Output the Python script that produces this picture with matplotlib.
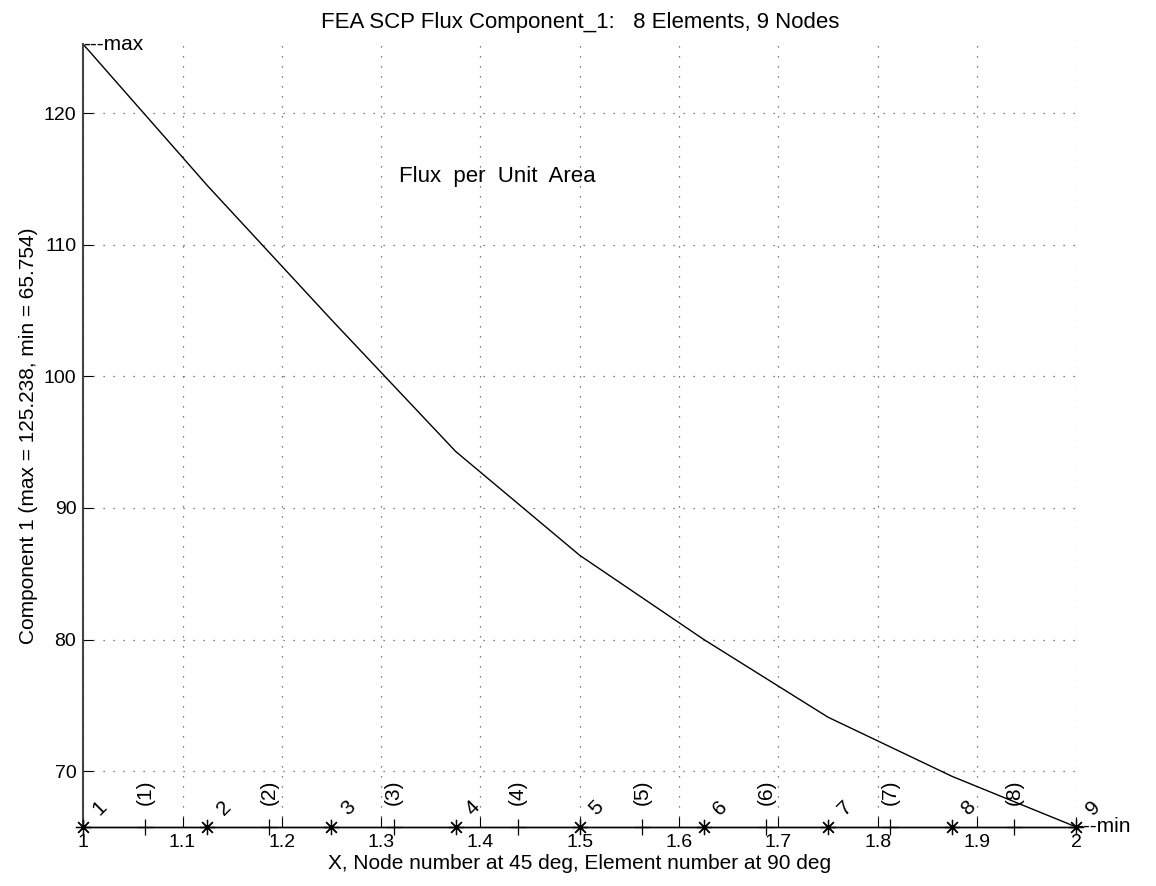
import numpy as np
import matplotlib as mpl
mpl.use('Agg')
import matplotlib.pyplot as plt

plt.rcParams['font.family'] = ['Liberation Sans', 'DejaVu Sans']

# node positions and flux values
x_nodes = [1.0, 1.125, 1.25, 1.375, 1.5, 1.625, 1.75, 1.875, 2.0]
flux = [125.238, 114.5, 104.3, 94.3, 86.4, 80.0, 74.1, 69.6, 65.754]
x_elems = [1.0625, 1.1875, 1.3125, 1.4375, 1.5625, 1.6875, 1.8125, 1.9375]
node_labels = ['1', '2', '3', '4', '5', '6', '7', '8', '9']
elem_labels = ['(1)', '(2)', '(3)', '(4)', '(5)', '(6)', '(7)', '(8)']
xticks = [1, 1.1, 1.2, 1.3, 1.4, 1.5, 1.6, 1.7, 1.8, 1.9, 2]
xticklabels = ['1', '1.1', '1.2', '1.3', '1.4', '1.5', '1.6', '1.7', '1.8', '1.9', '2']
yticks = [70, 80, 90, 100, 110, 120]

ymax = max(flux)
ymin = min(flux)
fs = 15

fig = plt.figure(figsize=(11.56, 8.86), dpi=100)
ax = fig.add_axes([0.072, 0.0666, 0.859, 0.8834])

ax.plot(x_nodes, flux, color='black', lw=1)
# axis line at the min value with node / element markers
ax.plot([x_nodes[0], x_nodes[-1]], [ymin, ymin], color='black', lw=1, clip_on=False)
ax.plot(x_nodes, [ymin] * len(x_nodes), ls='none', marker=(8, 2, 0), color='black',
        ms=11, mew=0.9, clip_on=False, zorder=5)
ax.plot(x_elems, [ymin] * len(x_elems), ls='none', marker='+', color='black',
        ms=12, mew=0.9, clip_on=False, zorder=5)

for xn, lab in zip(x_nodes, node_labels):
    ax.annotate(lab, (xn, ymin), xytext=(12, 14), textcoords='offset points',
                rotation=45, ha='center', va='center', fontsize=fs)
for xe, lab in zip(x_elems, elem_labels):
    ax.annotate(lab, (xe, ymin), xytext=(0, 25), textcoords='offset points',
                rotation=90, ha='center', va='center', fontsize=fs)

ax.text(x_nodes[0], ymax, '---max', ha='left', va='center', fontsize=fs)
ax.text(x_nodes[-1], ymin, '---min', ha='left', va='center', fontsize=fs)
ax.text(1.318, 115.2, 'Flux  per  Unit  Area', ha='left', va='center', fontsize=16)

ax.set_xlim(1, 2)
ax.set_ylim(ymin, ymax)
ax.set_xticks(xticks)
ax.set_xticklabels(xticklabels)
ax.set_yticks(yticks)
ax.tick_params(direction='in', length=7, labelsize=14, pad=5)
ax.grid(True, ls=(0, (1, 7)), color='#555555', lw=0.9)

for side in ['top', 'right']:
    ax.spines[side].set_visible(False)
ax.spines['left'].set_color('#444444')
ax.spines['left'].set_linewidth(1.5)
ax.spines['bottom'].set_linewidth(1)

ax.set_title('FEA SCP Flux Component_1:   8 Elements, 9 Nodes', fontsize=16, pad=12)
ax.set_xlabel('X, Node number at 45 deg, Element number at 90 deg', fontsize=fs, labelpad=2)
ax.set_ylabel('Component 1 (max = 125.238, min = 65.754)', fontsize=fs, labelpad=4)

plt.savefig('out.png', dpi=100)
